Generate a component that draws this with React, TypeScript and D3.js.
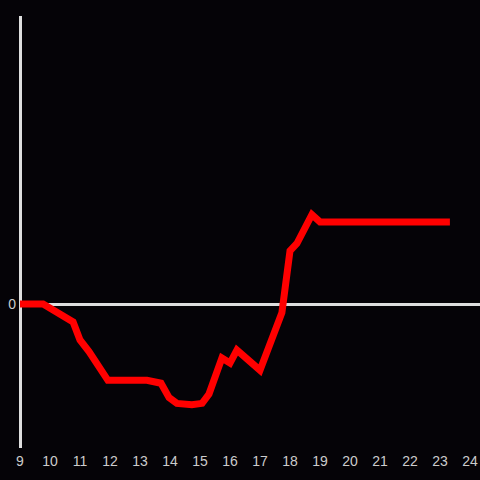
import React from "react";
import * as d3 from "d3";

const xValues = [9, 9.77, 10.77, 11.0, 11.3, 11.93, 13.23, 13.7, 13.97, 14.23, 14.73, 15.07, 15.3, 15.73, 16.0, 16.23, 17.0, 17.73, 18.0, 18.23, 18.73, 19.0, 23.33];
const yValues = [0, 0, -0.125, -0.25, -0.33, -0.53, -0.53, -0.55, -0.65, -0.69, -0.7, -0.69, -0.625, -0.375, -0.41, -0.32, -0.46, -0.06, 0.37, 0.42, 0.62, 0.57, 0.57];
const xTicks = [9, 10, 11, 12, 13, 14, 15, 16, 17, 18, 19, 20, 21, 22, 23, 24];
const yTicks = [0];

export default function App() {
  const W = 480, H = 480;
  const x = d3.scaleLinear().domain([9, 24]).range([20, 470]);
  const y = d3.scaleLinear().domain([-1, 2]).range([448, 16]);
  const pts: [number, number][] = xValues.map((v, i) => [v, yValues[i]]);
  const line = d3.line<[number, number]>().x(d => x(d[0])).y(d => y(d[1]));
  const font = "'Liberation Sans', Arial, sans-serif";
  return (
    <svg width={W} height={H} style={{ position: "fixed", left: 0, top: 0, background: "#050307" }}>
      <rect x={0} y={0} width={W} height={H} fill="#050307" />
      <line x1={20.5} x2={20.5} y1={16} y2={448} stroke="#dedede" strokeWidth={3} />
      {yTicks.map(t => (
        <g key={t}>
          <line x1={20} x2={480} y1={y(t) + 0.5} y2={y(t) + 0.5} stroke="#dedede" strokeWidth={3} />
          <text x={16} y={y(t) + 0.5} dy="0.35em" textAnchor="end" fill="#cccccc" fontSize={14} fontFamily={font}>{t}</text>
        </g>
      ))}
      {xTicks.map(t => (
        <text key={t} x={x(t)} y={466} textAnchor="middle" fill="#cccccc" fontSize={14} fontFamily={font}>{t}</text>
      ))}
      <path d={line(pts) || ""} fill="none" stroke="#ff0000" strokeWidth={7} strokeLinejoin="miter" strokeLinecap="butt" />
    </svg>
  );
}
